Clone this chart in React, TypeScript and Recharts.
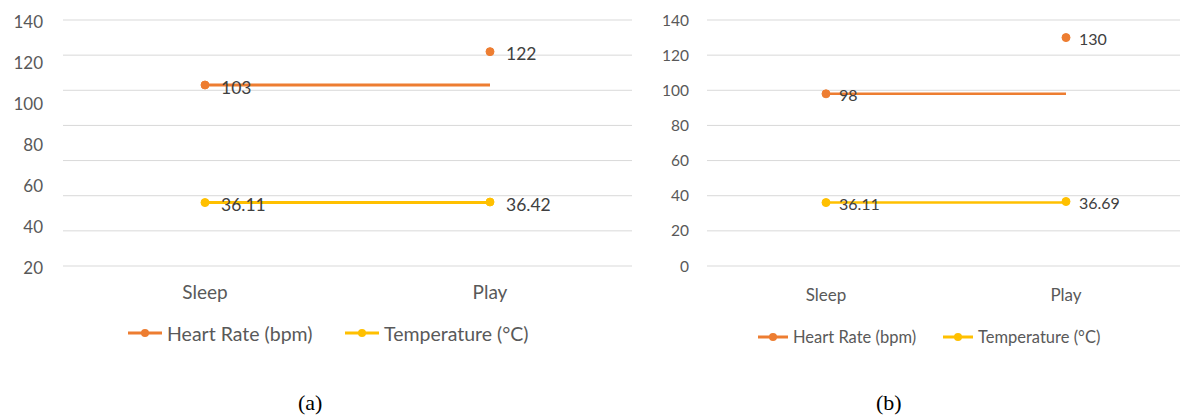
import { LineChart, Line, XAxis, YAxis, CartesianGrid } from "recharts";

const categories = ["Sleep", "Play"];
const seriesNames = ["Heart Rate (bpm)", "Temperature (°C)"];

// panel (a)
const heartRateA = [103, 122];
const temperatureA = [36.11, 36.42];
const gridTicksA = [0, 20, 40, 60, 80, 100, 120, 140];
const labelTicksA = [20, 40, 60, 80, 100, 120, 140];

// panel (b)
const heartRateB = [98, 130];
const temperatureB = [36.11, 36.69];
const ticksB = [0, 20, 40, 60, 80, 100, 120, 140];

const ORANGE = "#ED7D31";
const YELLOW = "#FFC000";
const GRID = "#D9D9D9";
const AXIS_TEXT = "#595959";
const LABEL_TEXT = "#404040";
const FONT = "Lato, 'Open Sans', sans-serif";

function buildRows(heart: number[], temp: number[]) {
  // Excel drew each line flat at the Sleep value, so the line keys repeat the first point
  return categories.map((cat, i) => ({
    cat,
    heart: heart[i],
    temp: temp[i],
    heartLine: heart[0],
    tempLine: temp[0],
  }));
}

function pointLabel(dx: number, dy: number, fontSize: number) {
  return (p: any) => (
    <text
      x={p.x + dx}
      y={p.y + dy}
      dominantBaseline="central"
      fill={LABEL_TEXT}
      fontSize={fontSize}
      fontFamily={FONT}
    >
      {p.value}
    </text>
  );
}

function LegendItem({ x, y, color, text, iconW, fontSize }: any) {
  return (
    <div
      style={{
        position: "absolute",
        left: x,
        top: y - 15,
        height: 30,
        display: "flex",
        alignItems: "center",
        gap: 5,
        fontFamily: FONT,
        fontSize,
        color: AXIS_TEXT,
        whiteSpace: "nowrap",
      }}
    >
      <svg width={iconW} height={10}>
        <line x1={0} y1={5} x2={iconW} y2={5} stroke={color} strokeWidth={3} />
        <circle cx={iconW / 2} cy={5} r={4} fill={color} />
      </svg>
      <span>{text}</span>
    </div>
  );
}

function PanelA() {
  const rows = buildRows(heartRateA, temperatureA);
  return (
    <div style={{ position: "absolute", left: 0, top: 0 }}>
      <LineChart width={640} height={330} data={rows} margin={{ top: 20, right: 8, left: 0, bottom: 0 }}>
        <CartesianGrid yAxisId="data" vertical={false} stroke={GRID} strokeWidth={1} />
        <XAxis
          dataKey="cat"
          padding={{ left: 142, right: 142 }}
          axisLine={false}
          tickLine={false}
          tickSize={0}
          tickMargin={20}
          height={64}
          tick={{ fill: AXIS_TEXT, fontSize: 19, fontFamily: FONT }}
        />
        <YAxis
          yAxisId="data"
          domain={[0, 140]}
          ticks={gridTicksA}
          width={0}
          axisLine={false}
          tickLine={false}
          tick={{ fill: "transparent", fontSize: 1 }}
        />
        {/* the printed labels run 20..140 over the same height as the 0..140 grid */}
        <YAxis
          yAxisId="labels"
          domain={[20, 140]}
          ticks={labelTicksA}
          width={63}
          axisLine={false}
          tickLine={false}
          tickSize={0}
          tickMargin={20}
          tick={{ fill: AXIS_TEXT, fontSize: 17, fontFamily: FONT, dy: 2 }}
        />
        <Line yAxisId="labels" dataKey="heart" stroke="none" dot={false} activeDot={false} isAnimationActive={false} />
        <Line yAxisId="data" dataKey="heartLine" stroke={ORANGE} strokeWidth={3} dot={false} activeDot={false} isAnimationActive={false} />
        <Line yAxisId="data" dataKey="tempLine" stroke={YELLOW} strokeWidth={3} dot={false} activeDot={false} isAnimationActive={false} />
        <Line
          yAxisId="data"
          dataKey="heart"
          stroke="none"
          dot={{ r: 4, fill: ORANGE, stroke: ORANGE, strokeWidth: 1 }}
          activeDot={false}
          label={pointLabel(16, 2, 17.5)}
          isAnimationActive={false}
        />
        <Line
          yAxisId="data"
          dataKey="temp"
          stroke="none"
          dot={{ r: 4, fill: YELLOW, stroke: YELLOW, strokeWidth: 1 }}
          activeDot={false}
          label={pointLabel(16, 2, 17.5)}
          isAnimationActive={false}
        />
      </LineChart>
      <LegendItem x={128} y={333} color={ORANGE} text={seriesNames[0]} iconW={34} fontSize={19.5} />
      <LegendItem x={345} y={333} color={YELLOW} text={seriesNames[1]} iconW={34} fontSize={19.5} />
    </div>
  );
}

function PanelB() {
  const rows = buildRows(heartRateB, temperatureB);
  return (
    <div style={{ position: "absolute", left: 647, top: 0 }}>
      <LineChart width={540} height={330} data={rows} margin={{ top: 20, right: 0, left: 0, bottom: 0 }}>
        <CartesianGrid vertical={false} stroke={GRID} strokeWidth={1} />
        <XAxis
          dataKey="cat"
          padding={{ left: 119, right: 121 }}
          axisLine={false}
          tickLine={false}
          tickSize={0}
          tickMargin={23}
          height={64}
          tick={{ fill: AXIS_TEXT, fontSize: 17, fontFamily: FONT }}
        />
        <YAxis
          domain={[0, 140]}
          ticks={ticksB}
          width={60}
          axisLine={false}
          tickLine={false}
          tickSize={0}
          tickMargin={18}
          tick={{ fill: AXIS_TEXT, fontSize: 15.5, fontFamily: FONT }}
        />
        <Line dataKey="heartLine" stroke={ORANGE} strokeWidth={2.5} dot={false} activeDot={false} isAnimationActive={false} />
        <Line dataKey="tempLine" stroke={YELLOW} strokeWidth={2.5} dot={false} activeDot={false} isAnimationActive={false} />
        <Line
          dataKey="heart"
          stroke="none"
          dot={{ r: 4, fill: ORANGE, stroke: ORANGE, strokeWidth: 1 }}
          activeDot={false}
          label={pointLabel(13, 1, 16)}
          isAnimationActive={false}
        />
        <Line
          dataKey="temp"
          stroke="none"
          dot={{ r: 4, fill: YELLOW, stroke: YELLOW, strokeWidth: 1 }}
          activeDot={false}
          label={pointLabel(13, 1, 16)}
          isAnimationActive={false}
        />
      </LineChart>
      <LegendItem x={758 - 647} y={337} color={ORANGE} text={seriesNames[0]} iconW={30} fontSize={16.5} />
      <LegendItem x={943 - 647} y={337} color={YELLOW} text={seriesNames[1]} iconW={30} fontSize={16.5} />
    </div>
  );
}

export default function App() {
  return (
    <div
      style={{
        position: "absolute",
        left: 0,
        top: 0,
        width: 1180,
        height: 419,
        overflow: "hidden",
        background: "#fff",
      }}
    >
      <PanelA />
      <PanelB />
      <div style={{ position: "absolute", left: 298, top: 390, fontFamily: "'Liberation Serif', serif", fontSize: 22 }}>(a)</div>
      <div style={{ position: "absolute", left: 876, top: 390, fontFamily: "'Liberation Serif', serif", fontSize: 22 }}>(b)</div>
    </div>
  );
}
